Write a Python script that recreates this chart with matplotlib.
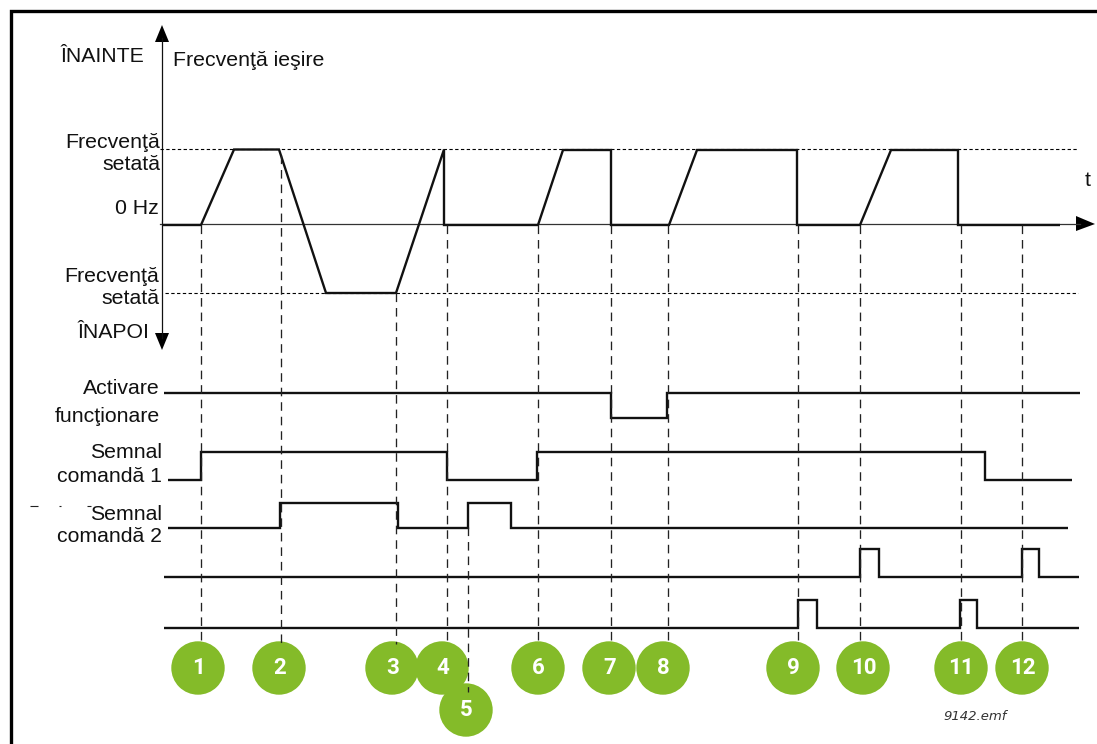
import matplotlib
matplotlib.use("Agg")
import matplotlib.pyplot as plt
from matplotlib.patches import Circle, Polygon

WIDTH, HEIGHT = 1097, 744
plt.rcParams['font.family'] = ['Liberation Sans', 'DejaVu Sans']

# event times and the level each dashed marker starts from / ends at
event_x = [200.5, 281, 396, 446.5, 468, 538, 611, 668, 798, 860, 961, 1022]
event_top = [225, 155, 293, 225, 527, 225, 225, 225, 225, 225, 225, 225]
event_bottom = [644, 644, 644, 644, 692, 644, 644, 644, 644, 644, 644, 644]
event_labels = ['1', '2', '3', '4', '5', '6', '7', '8', '9', '10', '11', '12']
badge_x = [198, 279, 392, 442, 466, 538, 609, 663, 793, 863, 961, 1022]
badge_y = [668, 668, 668, 668, 710, 668, 668, 668, 668, 668, 668, 668]

# output frequency trace
freq_t = [162, 201, 234, 279, 326, 396, 444, 444, 538, 563, 611, 611, 669, 697, 797, 797, 860, 891, 958, 958, 1060]
freq_v = [225, 225, 149.5, 149.5, 293, 293, 149.5, 225, 225, 150, 150, 225, 225, 150, 150, 225, 225, 150, 150, 225, 225]

# digital signal traces
run_t = [164, 611, 611, 667, 667, 1080]
run_v = [392.5, 392.5, 418, 418, 392.5, 392.5]
cmd1_t = [168, 201, 201, 447, 447, 537, 537, 985, 985, 1072]
cmd1_v = [480, 480, 452, 452, 480, 480, 452, 452, 480, 480]
cmd2_t = [168, 280, 280, 398, 398, 468, 468, 511, 511, 1068]
cmd2_v = [527.5, 527.5, 502.5, 502.5, 527.5, 527.5, 502.5, 502.5, 527.5, 527.5]
sig3_t = [164, 860, 860, 879, 879, 1022, 1022, 1039, 1039, 1079]
sig3_v = [577, 577, 549, 549, 577, 577, 549, 549, 577, 577]
sig4_t = [164, 798, 798, 817, 817, 960, 960, 977, 977, 1079]
sig4_v = [627.5, 627.5, 600, 600, 627.5, 627.5, 600, 600, 627.5, 627.5]
traces = [(freq_t, freq_v), (run_t, run_v), (cmd1_t, cmd1_v), (cmd2_t, cmd2_v), (sig3_t, sig3_v), (sig4_t, sig4_v)]

# reference levels
set_fwd, zero, set_rev = 148.5, 224, 293

# left-hand labels: (right edge, vertical centre, text)
labels = [
    (144, 57, 'ÎNAINTE'), (160, 143, 'Frecvenţă'), (160, 165, 'setată'),
    (159, 209, '0 Hz'), (159, 277, 'Frecvenţă'), (159, 299, 'setată'),
    (149, 332, 'ÎNAPOI'), (160, 389, 'Activare'), (160, 417, 'funcţionare'),
    (162, 453, 'Semnal'), (162, 476, 'comandă 1'), (162, 515, 'Semnal'),
    (162, 536, 'comandă 2'),
]

# slivers of clipped-away text left of the second command label
sliver_start = [30, 59, 87]
sliver_end = [38, 61, 91]
sliver_y = 505.5

fig = plt.figure(figsize=(WIDTH / 100, HEIGHT / 100), dpi=100)
ax = fig.add_axes([0, 0, 1, 1])
ax.set_xlim(0, WIDTH)
ax.set_ylim(HEIGHT, 0)
ax.axis('off')

# outer frame, open to the right and bottom edges
ax.plot([10.5, 10.5, WIDTH + 5], [HEIGHT + 5, 11, 11], color='black', lw=2.4, solid_joinstyle='miter')

# axes
ax.plot([162, 162], [38, 338], color='#111111', lw=0.9)
ax.plot([160, 1080], [zero, zero], color='#333333', lw=0.9)
ax.add_patch(Polygon([(162, 25), (155, 42), (169, 42)], closed=True, color='black', lw=0))
ax.add_patch(Polygon([(162, 350), (155, 333), (169, 333)], closed=True, color='black', lw=0))
ax.add_patch(Polygon([(1095, 224), (1076, 216), (1076, 231)], closed=True, color='black', lw=0))

# reference dotted levels
ax.plot([160, 1078], [set_fwd, set_fwd], color='black', lw=0.8, dashes=(3, 2.2))
ax.plot([165, 1078], [set_rev, set_rev], color='black', lw=0.8, dashes=(3, 2.2))

# traces
for t, v in traces:
    ax.plot(t, v, color='#111111', lw=1.7, solid_joinstyle='miter', solid_capstyle='butt', zorder=3)

# badges
for x, y, s in zip(badge_x, badge_y, event_labels):
    ax.add_patch(Circle((x, y), 26.7, facecolor='#84BB29', edgecolor='none', zorder=4))
    ax.text(x + 0.5, y - 0.5, s, color='white', fontsize=16, fontweight='bold', family='Roboto',
            ha='center', va='center', zorder=6)

# event markers
for x, top, bottom in zip(event_x, event_top, event_bottom):
    ax.plot([x, x], [top, bottom], color='#222222', lw=0.95, dashes=(6.5, 4.5), zorder=5)

# text
for x, y, s in labels:
    ax.text(x, y, s, ha='right', va='center', fontsize=15.3, color='#111111')
ax.text(173, 61, 'Frecvenţă ieşire', ha='left', va='center', fontsize=15.3, color='#111111')
ax.text(1088, 181, 't', ha='center', va='center', fontsize=15.3, color='#111111')
ax.text(975, 717, '9142.emf', ha='center', va='center', fontsize=9.5, style='italic', color='#333333',
        family='DejaVu Sans')

# slivers
for a, b in zip(sliver_start, sliver_end):
    ax.plot([a, b], [sliver_y, sliver_y], color='#222222', lw=0.8, solid_capstyle='butt')

fig.savefig('out.png', dpi=100)
